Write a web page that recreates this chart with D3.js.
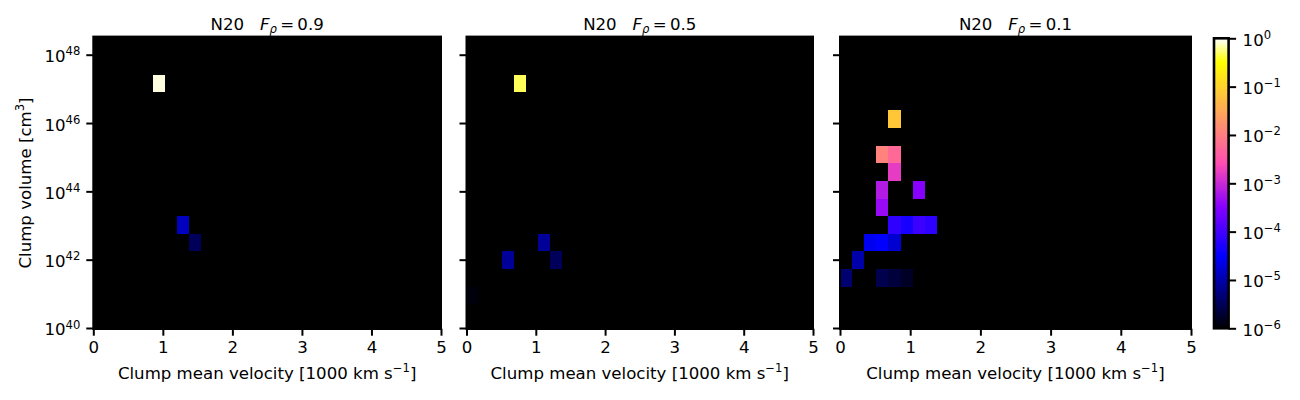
<!DOCTYPE html>
<html>
<head>
<meta charset="utf-8">
<script src="https://cdn.jsdelivr.net/npm/d3@7"></script>
<style>
  html, body { margin: 0; padding: 0; background: #fff; overflow: hidden; }
  text { font-family: "DejaVu Sans", sans-serif; fill: #000; }
</style>
</head>
<body>
<svg id="chart" width="1300" height="400"></svg>
<script>
// bin edges, velocity in 1000 km/s and log10 of volume
const velocityEdges = [0, 0.172, 0.345, 0.517, 0.690, 0.862, 1.034, 1.207, 1.379, 1.552];
const volumeEdges = [40.17, 40.69, 41.21, 41.72, 42.24, 42.76, 43.28, 43.79, 44.31, 44.83, 45.34, 45.86, 46.38, 46.90, 47.41, 47.93];

const panelTitles = ['0.9', '0.5', '0.1'];

// cells: [velocity bin, volume bin, mass fraction]
const cellsF09 = [[5, 13, 0.87], [7, 5, 1.33e-5], [8, 4, 3.4e-6]];
const cellsF05 = [[4, 13, 0.49], [3, 3, 7.9e-6], [6, 4, 7.9e-6], [7, 3, 3.4e-6], [0, 1, 1.2e-6]];
const cellsF01 = [
  [4, 11, 0.072], [3, 9, 0.0112], [4, 9, 0.0056], [4, 8, 0.0017],
  [3, 7, 6.8e-4], [6, 7, 3.3e-4], [3, 6, 4.4e-4],
  [4, 5, 7.2e-5], [5, 5, 4.8e-5], [6, 5, 8.9e-5], [7, 5, 7e-5],
  [2, 4, 2.6e-5], [3, 4, 3.2e-5], [4, 4, 1.7e-5],
  [1, 3, 1e-5],
  [0, 2, 4.5e-6], [3, 2, 2.8e-6], [4, 2, 2.3e-6], [5, 2, 1.7e-6]
];
const panelCells = [cellsF09, cellsF05, cellsF01];

const xTicks = [0, 1, 2, 3, 4, 5];
const yTickExps = [40, 42, 44, 46, 48];
const yTopExp = 48.53;
const cbarTickExps = [0, -1, -2, -3, -4, -5, -6];

const panels = [
  {left: 93.3, right: 441},
  {left: 466.5, right: 813},
  {left: 840, right: 1191}
];
const plotTop = 36.6, plotBottom = 328;
const fs = 16.6;

const svg = d3.select('#chart');

// gnuplot2 colormap
const clip01 = v => Math.max(0, Math.min(1, v));
function gnuplot2(x) {
  const r = clip01(x / 0.32 - 0.78125);
  const g = clip01(2 * x - 0.84);
  let b;
  if (x < 0.25) b = 4 * x;
  else if (x < 0.92) b = -2 * x + 1.84;
  else b = x / 0.08 - 11.5;
  return d3.rgb(r * 255, g * 255, clip01(b) * 255).formatRgb();
}
const norm = d3.scaleLog().domain([1e-6, 1]).range([0, 1]).clamp(true);
const color = v => gnuplot2(norm(v));

const y = d3.scaleLog().domain([1e40, Math.pow(10, yTopExp)]).range([plotBottom, plotTop]);

// base 10 with a raised exponent
function powerLabel(sel, exp) {
  sel.text('10');
  sel.append('tspan')
    .attr('dy', -fs * 0.42)
    .style('font-size', (fs * 0.7) + 'px')
    .text(String(exp).replace('-', '\u2212'));
}

panels.forEach((p, k) => {
  const x = d3.scaleLinear().domain([0, 5]).range([p.left, p.right]);
  const g = svg.append('g');

  g.append('rect')
    .attr('x', p.left).attr('y', plotTop)
    .attr('width', p.right - p.left).attr('height', plotBottom - plotTop + 1)
    .attr('fill', '#000');

  g.selectAll('rect.cell').data(panelCells[k]).enter().append('rect')
    .attr('class', 'cell')
    .attr('shape-rendering', 'crispEdges')
    .attr('x', d => x(velocityEdges[d[0]]))
    .attr('width', d => x(velocityEdges[d[0] + 1]) - x(velocityEdges[d[0]]))
    .attr('y', d => y(Math.pow(10, volumeEdges[d[1] + 1])))
    .attr('height', d => y(Math.pow(10, volumeEdges[d[1]])) - y(Math.pow(10, volumeEdges[d[1] + 1])))
    .attr('fill', d => color(d[2]));

  // spines
  g.append('rect')
    .attr('x', p.left).attr('y', plotTop)
    .attr('width', p.right - p.left).attr('height', plotBottom - plotTop + 1)
    .attr('fill', 'none').attr('stroke', '#000').attr('stroke-width', 2);

  const xAxis = g.append('g')
    .attr('transform', `translate(0,${plotBottom + 0.7})`)
    .call(d3.axisBottom(x).tickValues(xTicks).tickFormat(d3.format('d')).tickSize(7).tickPadding(5.5));
  xAxis.select('.domain').remove();
  xAxis.selectAll('line').attr('stroke-width', 2);
  xAxis.selectAll('text').style('font-size', fs + 'px');

  const yAxis = g.append('g')
    .attr('transform', `translate(${p.left},0)`)
    .call(d3.axisLeft(y).tickValues(yTickExps.map(e => Math.pow(10, e))).tickFormat('').tickSize(7));
  yAxis.select('.domain').remove();
  yAxis.selectAll('line').attr('stroke-width', 2);
  if (k === 0) {
    yAxis.selectAll('.tick text').style('font-size', fs + 'px')
      .attr('x', -13).attr('dy', '0.42em')
      .each(function(d, i) { powerLabel(d3.select(this), yTickExps[i]); });
  }

  // x label
  const xl = g.append('text')
    .attr('x', (p.left + p.right) / 2).attr('y', 379)
    .attr('text-anchor', 'middle').style('font-size', fs + 'px')
    .text('Clump mean velocity [1000 km s');
  xl.append('tspan').attr('dy', -fs * 0.42).style('font-size', (fs * 0.7) + 'px').text('\u22121');
  xl.append('tspan').attr('dy', fs * 0.42).text(']');

  // title
  const t = g.append('text')
    .attr('x', (p.left + p.right) / 2).attr('y', 29.5)
    .attr('text-anchor', 'middle').style('font-size', fs + 'px')
    .attr('xml:space', 'preserve')
    .text('N20   ');
  t.append('tspan').style('font-style', 'italic').text('F');
  t.append('tspan').attr('dy', 3).style('font-style', 'italic').style('font-size', (fs * 0.7) + 'px').text('\u03c1');
  t.append('tspan').attr('dy', -3).text('\u2009=\u2009' + panelTitles[k]);
});

// y label
svg.append('text')
  .attr('transform', 'translate(31,183) rotate(-90)')
  .attr('text-anchor', 'middle').style('font-size', fs + 'px')
  .call(s => {
    s.text('Clump volume [cm');
    s.append('tspan').attr('dy', -fs * 0.42).style('font-size', (fs * 0.7) + 'px').text('3');
    s.append('tspan').attr('dy', fs * 0.42).text(']');
  });

// colorbar
const cbar = {left: 1214, right: 1228.6, top: 38.3, bottom: 328.3};
const cy = d3.scaleLog().domain([1e-6, 1]).range([cbar.bottom, cbar.top]);
const cbarLevels = d3.range(256).map(i => i / 256);
const cbarG = svg.append('g');
cbarG.selectAll('rect').data(cbarLevels).enter().append('rect')
  .attr('shape-rendering', 'crispEdges')
  .attr('x', cbar.left)
  .attr('width', cbar.right - cbar.left)
  .attr('y', d => cy(Math.pow(10, -6 + 6 * (d + 1 / 256))))
  .attr('height', (cbar.bottom - cbar.top) / 256 + 1)
  .attr('fill', d => gnuplot2(d));
cbarG.append('rect')
  .attr('x', cbar.left).attr('y', cbar.top)
  .attr('width', cbar.right - cbar.left).attr('height', cbar.bottom - cbar.top)
  .attr('fill', 'none').attr('stroke', '#000').attr('stroke-width', 2.6);

const cAxis = svg.append('g')
  .attr('transform', `translate(${cbar.right},0)`)
  .call(d3.axisRight(cy).tickValues(cbarTickExps.map(e => Math.pow(10, e))).tickFormat('').tickSize(7.5));
cAxis.select('.domain').remove();
cAxis.selectAll('line').attr('stroke-width', 2);
cAxis.selectAll('.tick text').style('font-size', fs + 'px')
  .attr('x', 14).attr('dy', '0.42em')
  .each(function(d, i) { powerLabel(d3.select(this), cbarTickExps[i]); });
</script>
</body>
</html>
